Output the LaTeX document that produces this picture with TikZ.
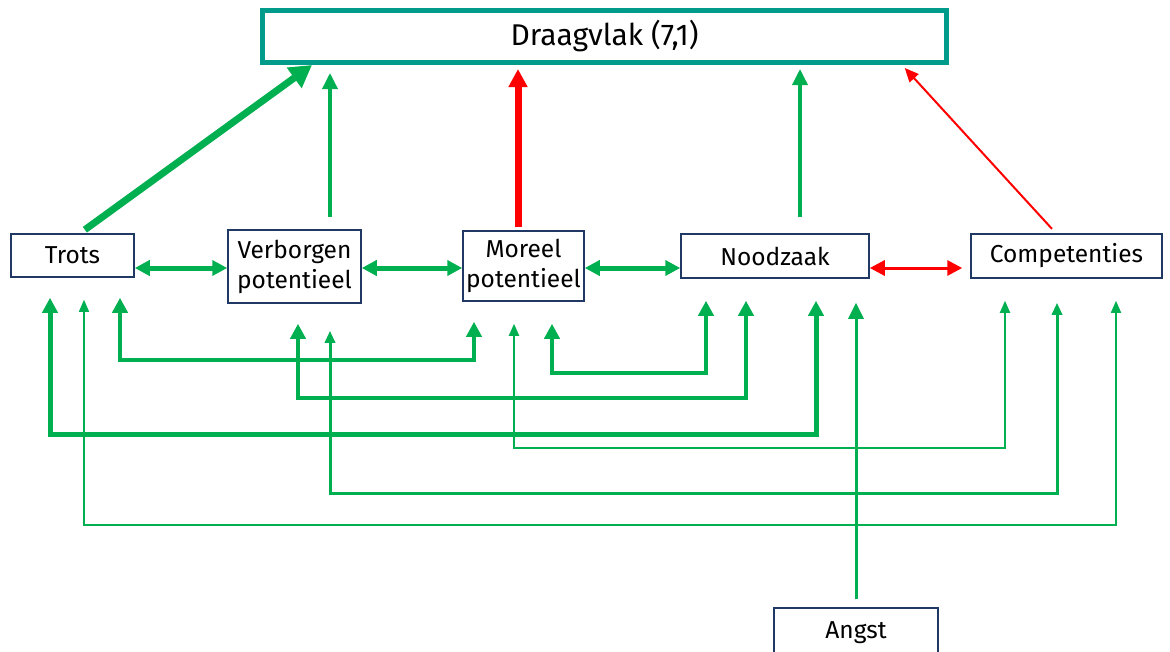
\documentclass[tikz,border=0pt]{standalone}
\usepackage{fontspec}
\setmainfont{Fira Sans}
\usetikzlibrary{arrows.meta}
\definecolor{ogreen}{HTML}{00B050}
\definecolor{ored}{HTML}{FF0000}
\definecolor{dteal}{HTML}{009B8A}
\definecolor{dnavy}{HTML}{1F3864}
\begin{document}
\begin{tikzpicture}[x=1pt,y=-1pt,
  box/.style={draw=dnavy, line width=1.5pt, inner sep=0pt, align=center,
    font=\fontsize{24.5}{30}\selectfont},
  big/.style={-{Triangle[length=22pt,width=24pt]}},
  mid/.style={-{Triangle[length=16pt,width=15pt]}},
  both/.style={{Triangle[length=15pt,width=15pt]}-{Triangle[length=15pt,width=15pt]}},
  thin/.style={{Triangle[length=12pt,width=10pt]}-{Triangle[length=12pt,width=10pt]}}]
\useasboundingbox (0,0) rectangle (1170,651);
\node[box, draw=dteal, line width=5pt, minimum width=684pt, minimum height=52pt,
  font=\fontsize{30}{34}\selectfont] (dv) at (604.5,36.5) {Draagvlak (7,1)};
\node[box, minimum width=123pt, minimum height=43pt] (tr) at (72.5,255.5) {Trots};
\node[box, minimum width=133pt, minimum height=73pt] (vp) at (294.5,266.5) {Verborgen\\potentieel};
\node[box, minimum width=121pt, minimum height=70pt] (mp) at (523.5,266) {Moreel\\potentieel};
\node[box, minimum width=188pt, minimum height=44pt] (nz) at (775,256) {Noodzaak};
\node[box, minimum width=191pt, minimum height=44pt] (cp) at (1066.5,256) {Competenties};
\node[box, minimum width=164pt, minimum height=50pt] (an) at (856,633) {Angst};
% naar draagvlak
\draw[ogreen, line width=7pt, big, shorten <=6pt] (tr.north -| 80,0) -- (dv.south -| 312,0);
\draw[ogreen, line width=3.5pt, mid, shorten <=12pt, shorten >=8pt] (vp.north -| 330,0) -- (dv.south -| 330,0);
\draw[ored, line width=7pt, -{Triangle[length=18pt,width=18pt]}, shorten <=3pt, shorten >=4pt] (mp.north -| 518,0) -- (dv.south -| 518,0);
\draw[ogreen, line width=3.5pt, mid, shorten <=16pt, shorten >=4pt] (nz.north -| 800,0) -- (dv.south -| 800,0);
\draw[ored, line width=2pt, -{Triangle[length=14pt,width=12pt]}, shorten <=6pt, shorten >=4pt] (cp.north -| 1056,0) -- (dv.south -| 902,0);
% onderling
\draw[ogreen, line width=5pt, both] (tr.east |- 0,268) -- (vp.west |- 0,268);
\draw[ogreen, line width=5pt, both] (vp.east |- 0,268) -- (mp.west |- 0,268);
\draw[ogreen, line width=5pt, both] (mp.east |- 0,268) -- (nz.west |- 0,268);
\draw[ored, line width=3pt, both, shorten >=8pt] (nz.east |- 0,268) -- (cp.west |- 0,268);
% verbindingen onder
\draw[ogreen, line width=4pt, both, shorten <=20pt, shorten >=20pt] (tr.south -| 120,0) -- (120,360) -- (474,360) -- (mp.south -| 474,0);
\draw[ogreen, line width=4pt, both, shorten <=20pt, shorten >=22pt] (vp.south -| 298,0) -- (298,398) -- (746,398) -- (nz.south -| 746,0);
\draw[ogreen, line width=4pt, both, shorten <=22pt, shorten >=22pt] (mp.south -| 552,0) -- (552,373) -- (706,373) -- (nz.south -| 706,0);
\draw[ogreen, line width=5pt, both, shorten <=20pt, shorten >=22pt] (tr.south -| 50,0) -- (50,434) -- (816,434) -- (nz.south -| 816,0);
\draw[ogreen, line width=2pt, thin, shorten <=22pt, shorten >=22pt] (mp.south -| 514,0) -- (514,448) -- (1005,448) -- (cp.south -| 1005,0);
\draw[ogreen, line width=3pt, thin, shorten <=27pt, shorten >=24pt] (vp.south -| 330,0) -- (330,493) -- (1057,493) -- (cp.south -| 1057,0);
\draw[ogreen, line width=1.5pt, thin, shorten <=22pt, shorten >=22pt] (tr.south -| 84,0) -- (84,525) -- (1116,525) -- (cp.south -| 1116,0);
\draw[ogreen, line width=3pt, mid, shorten <=8pt, shorten >=24pt] (an.north) -- (nz.south -| 856,0);
\end{tikzpicture}
\end{document}
